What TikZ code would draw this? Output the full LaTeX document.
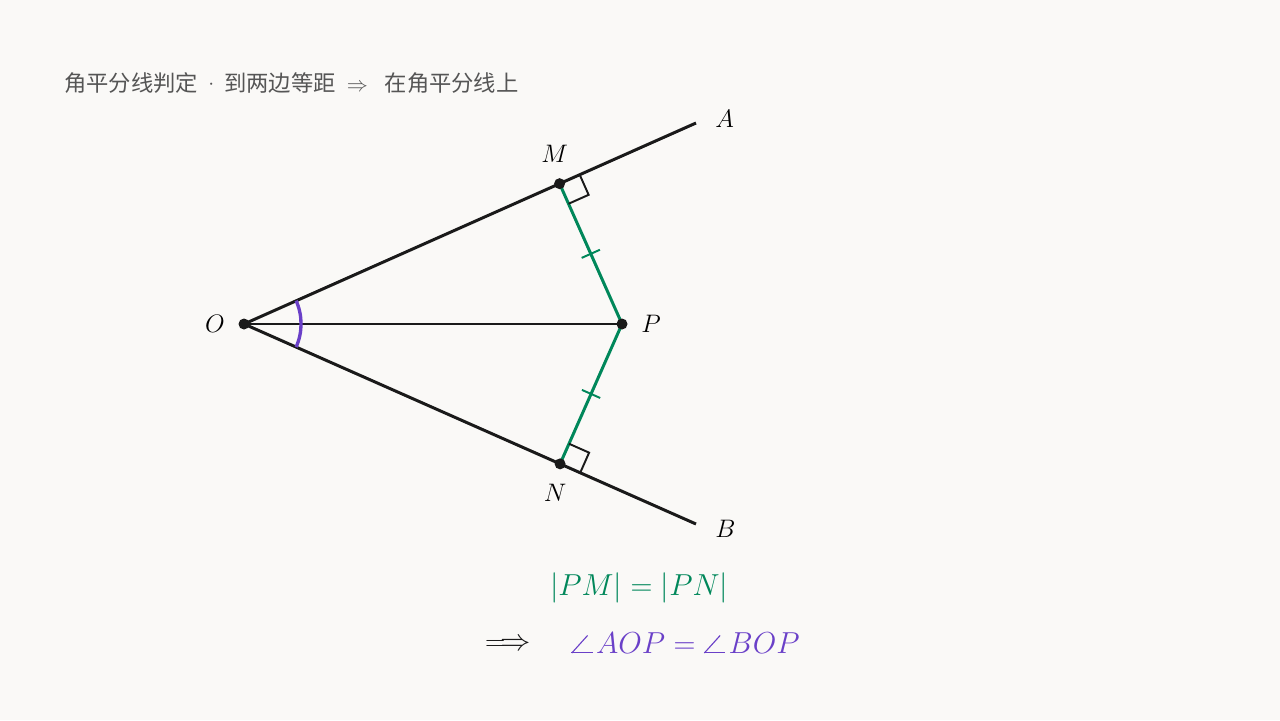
\documentclass[tikz,border=0pt]{standalone}
\usepackage{amsmath}
\usepackage{fontspec}
\usepackage{xcolor}
\usepackage{tikz}
\usetikzlibrary{calc}
\usetikzlibrary{positioning}
\newfontfamily\cjk{Noto Sans CJK SC}
\definecolor{bgcol}{HTML}{FAF9F7}
\definecolor{eqgreen}{HTML}{00875A}
\definecolor{angpurple}{HTML}{6A40C8}
\definecolor{titlegray}{HTML}{555555}
\definecolor{inkcol}{HTML}{1A1A1A}

% angle sign with a proper base stroke
\newcommand{\angsym}{\mathord{\hbox{\rlap{\rotatebox[origin=lb]{48}{\rule{0.84em}{0.04em}}}\rule{0.76em}{0.04em}}}\mkern2mu}

\begin{document}
\begin{tikzpicture}[x=0.02cm,y=-0.02cm]
    \tikzstyle{ray}=[draw=inkcol,line width=1.7pt]
    \tikzstyle{dist}=[draw=eqgreen,line width=1.7pt]
    \tikzstyle{rtmark}=[draw=inkcol,line width=1.1pt]
    \tikzstyle{tick}=[draw=eqgreen,line width=1.1pt]
    \tikzstyle{dot}=[circle,fill=inkcol,inner sep=0pt,minimum size=0.22cm]
    \tikzstyle{lbl}=[inner sep=0pt,font=\fontsize{14.5}{17}\selectfont]
    \tikzstyle{eq}=[inner sep=0pt,font=\fontsize{16}{19}\selectfont]

    \fill[bgcol] (0,0) rectangle (1280,720) ;
    \useasboundingbox (0,0) rectangle (1280,720) ;

    \node[anchor=west,inner sep=0pt,text=titlegray,font=\cjk\fontsize{12.7}{15}\selectfont] (title) at (64,83)
      {角平分线判定\hspace{0.45em}\raisebox{0.08em}{$\cdot$}\hspace{0.45em}到两边等距\hspace{0.5em}$\Rightarrow$\hspace{0.75em}在角平分线上} ;

    \coordinate (O) at (244,324) ;
    \coordinate (P) at (622,324) ;
    \coordinate (A) at (696,123) ;
    \coordinate (B) at (696,524) ;
    \coordinate (M) at ($(O)!(P)!(A)$) ;
    \coordinate (N) at ($(O)!(P)!(B)$) ;

    \draw[ray] (O) -- (A) ;
    \draw[ray] (O) -- (B) ;
    \draw[ray] (O) -- (P) ;
    \draw[dist] (P) -- (M) ;
    \draw[dist] (P) -- (N) ;

    \draw[draw=angpurple,line width=1.9pt] ($(O)!1.14cm!(B)$) arc[start angle=24,end angle=-24,radius=57] ;

    \foreach \f/\g in {M/A,N/B}{%
      \coordinate (\f a) at ($(\f)!0.44cm!(\g)$) ;
      \coordinate (\f p) at ($(\f)!0.44cm!(P)$) ;
      \draw[rtmark] (\f a) -- ($(\f a)+(\f p)-(\f)$) -- (\f p) ;
      \coordinate (\f t) at ($(\f)!0.5!(P)$) ;
      \draw[tick] ($(\f t)!0.2cm!90:(P)$) -- ($(\f t)!0.2cm!-90:(P)$) ;}

    \foreach \f in {O,P,M,N}{\node[dot] at (\f) {} ;}

    \node[lbl,left=0.38cm of O] (Olbl) {$O$} ;
    \node[lbl,right=0.38cm of P] (Plbl) {$P$} ;
    \node[lbl,above=0.41cm of M,xshift=-0.1cm] (Mlbl) {$M$} ;
    \node[lbl,below=0.41cm of N,xshift=-0.1cm] (Nlbl) {$N$} ;
    \node[lbl,right=0.38cm of A,yshift=0.08cm] (Albl) {$A$} ;
    \node[lbl,right=0.38cm of B,yshift=-0.1cm] (Blbl) {$B$} ;

    \node[eq,text=eqgreen] (eqdist) at (639,588) {$|PM|=|PN|$} ;
    \node[eq,text=inkcol] (implies) at (508,645) {$\Longrightarrow$} ;
    \node[eq,text=angpurple,anchor=west] (eqang) at (571,643) {$\angsym AOP=\angsym BOP$} ;
\end{tikzpicture}
\end{document}
